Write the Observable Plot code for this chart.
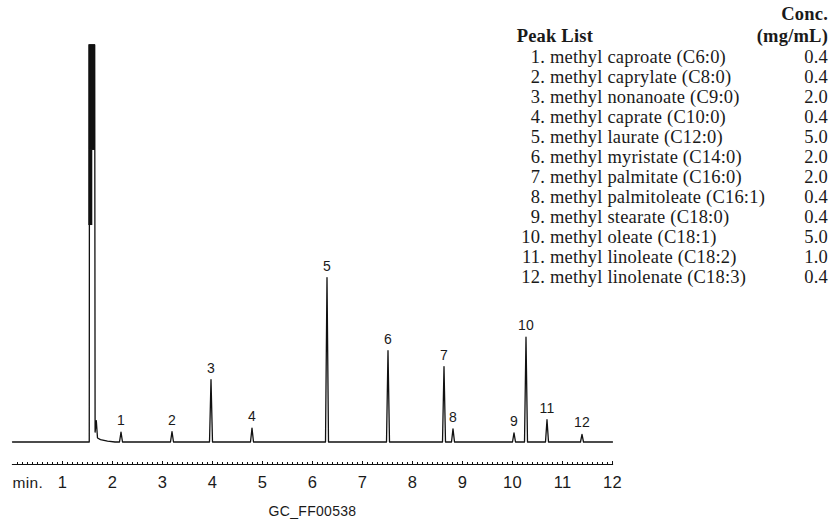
<!DOCTYPE html>
<html>
<head>
<meta charset="utf-8">
<script src="https://cdn.jsdelivr.net/npm/d3@7"></script>
<script src="https://cdn.jsdelivr.net/npm/@observablehq/plot@0.6"></script>
<style>
  body { margin: 0; background: #fff; }
  #wrap { position: relative; width: 830px; height: 520px; }
  #peaklist {
    position: absolute; left: 500px; top: 3px; width: 328px;
    font-family: "Liberation Serif", "Times New Roman", Times, serif;
    font-size: 18.5px; letter-spacing: 0.2px; color: #1a1a1a;
  }
  #peaklist .hdr { height: 22px; line-height: 22px; position: relative; white-space: nowrap; }
  #peaklist .row { height: 20px; line-height: 20px; position: relative; white-space: nowrap; }
  #peaklist b { font-weight: bold; }
  #peaklist .title { position: absolute; left: 16.7px; }
  #peaklist .num { position: absolute; left: 0; width: 45px; text-align: right; }
  #peaklist .name { position: absolute; left: 50px; }
  #peaklist .conc { position: absolute; right: 0; text-align: right; }
</style>
</head>
<body>
<div id="wrap"></div>
<script>
// ---- data ----
const peakNumbers = [1, 2, 3, 4, 5, 6, 7, 8, 9, 10, 11, 12];
const peakTimes   = [2.17, 3.19, 3.97, 4.79, 6.29, 7.51, 8.63, 8.81, 10.03, 10.27, 10.69, 11.39]; // min
const peakHeights = [2.5, 2.6, 15.7, 3.5, 41.4, 23.0, 19.0, 3.3, 2.3, 26.4, 5.6, 1.9];           // relative signal

// solvent front (off-scale peak) and its tail
const solventTimes   = [1.535, 1.54, 1.644, 1.652, 1.676, 1.70, 1.76, 1.90, 2.05];
const solventSignals = [0, 100, 100, 2.5, 5.4, 1.0, 0.6, 0.2, 0];
// saturated (off-scale) region of the solvent peak
const saturationStart = [1.526, 1.526];
const saturationEnd   = [1.660, 1.606];
const saturationLow   = [73.4, 54.5];
const saturationHigh  = [100, 73.4];

const runStart = 0, runEnd = 12;
const majorTicks = [1, 2, 3, 4, 5, 6, 7, 8, 9, 10, 11, 12];

// peak list
const compoundNames = [
  "methyl caproate (C6:0)", "methyl caprylate (C8:0)", "methyl nonanoate (C9:0)",
  "methyl caprate (C10:0)", "methyl laurate (C12:0)", "methyl myristate (C14:0)",
  "methyl palmitate (C16:0)", "methyl palmitoleate (C16:1)", "methyl stearate (C18:0)",
  "methyl oleate (C18:1)", "methyl linoleate (C18:2)", "methyl linolenate (C18:3)"
];
const concentrations = ["0.4", "0.4", "2.0", "0.4", "5.0", "2.0", "2.0", "0.4", "0.4", "5.0", "1.0", "0.4"];
const sampleCode = "GC_FF00538";

// ---- build tables ----
const halfBase = 0.03; // peak half-width at base (min)
const trace = [{t: runStart, s: 0}];
solventTimes.forEach((t, i) => trace.push({t, s: solventSignals[i]}));
peakTimes.forEach((t, i) => {
  trace.push({t: t - halfBase, s: 0});
  trace.push({t, s: peakHeights[i]});
  trace.push({t: t + halfBase, s: 0});
});
trace.push({t: runEnd, s: 0});

const peaks = peakNumbers.map((n, i) => ({label: String(n), t: peakTimes[i], h: peakHeights[i]}));
const bands = saturationStart.map((v, i) => ({x1: v, x2: saturationEnd[i], y1: saturationLow[i], y2: saturationHigh[i]}));
const minorTicks = d3.range(0, 121).map(d => d / 10).filter(d => !majorTicks.includes(d) && d !== 0);

const ink = "#111";
const chart = Plot.plot({
  width: 830,
  height: 520,
  marginLeft: 12,
  marginRight: 218,
  marginTop: 0,
  marginBottom: 56,
  style: {fontFamily: "'Liberation Sans Narrow', 'Liberation Sans', Arial, sans-serif", color: "#1a1a1a", background: "#fff"},
  x: {domain: [runStart, runEnd]},
  y: {domain: [0, 100], range: [441.5, 44.3], axis: null},
  marks: [
    Plot.frame({anchor: "bottom", stroke: ink, strokeWidth: 1.2}),
    Plot.axisX(minorTicks, {tickSize: -2, tickFormat: () => "", stroke: ink, strokeWidth: 1}),
    Plot.axisX(majorTicks, {tickSize: -3, tickPadding: 15, fontSize: 16.5, stroke: ink, strokeWidth: 1, label: null}),
    Plot.text(["min."], {frameAnchor: "bottom-left", textAnchor: "start", lineAnchor: "top", dy: 12, fontSize: 15.5}),
    Plot.rect(bands, {x1: "x1", x2: "x2", y1: "y1", y2: "y2", fill: ink}),
    Plot.line(trace, {x: "t", y: "s", stroke: ink, strokeWidth: 1.3, strokeLinejoin: "round"}),
    Plot.text(peaks, {x: "t", y: "h", text: "label", lineAnchor: "bottom", dy: -7, fontSize: 14}),
    Plot.text([sampleCode], {frameAnchor: "bottom", lineAnchor: "bottom", dy: 51, fontSize: 14})
  ]
});
chart.style.letterSpacing = "0.3px";
const wrap = document.getElementById("wrap");
wrap.appendChild(chart);

// peak list (legend)
const list = document.createElement("div");
list.id = "peaklist";
let html = '<div class="hdr"><b class="conc">Conc.</b></div>';
html += '<div class="hdr"><b class="title">Peak List</b><b class="conc">(mg/mL)</b></div>';
compoundNames.forEach((name, i) => {
  html += `<div class="row"><span class="num">${peakNumbers[i]}.</span><span class="name">${name}</span><span class="conc">${concentrations[i]}</span></div>`;
});
list.innerHTML = html;
wrap.appendChild(list);
</script>
</body>
</html>
